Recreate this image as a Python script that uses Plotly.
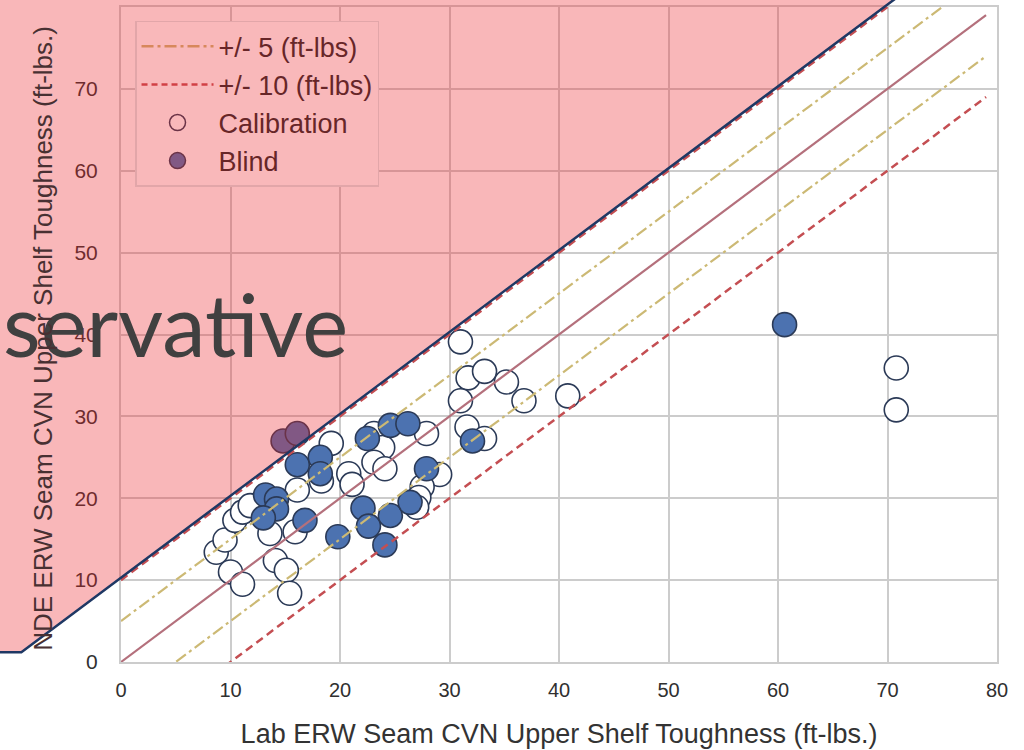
import plotly.graph_objects as go

# ---- data -----------------------------------------------------------------
cal_x = [8.7, 9.5, 10.0, 11.1, 10.4, 11.1, 11.8, 13.6, 14.1, 15.1, 15.4, 15.9,
         16.1, 18.3, 19.2, 20.8, 21.1, 23.1, 23.9, 23.1, 24.1, 27.9, 29.1, 27.5,
         27.2, 27.0, 31.0, 31.7, 33.2, 35.2, 36.8, 31.0, 40.8, 31.6, 33.2, 70.8,
         70.8]
cal_y = [13.4, 14.9, 11.0, 9.5, 17.3, 18.3, 19.1, 15.7, 12.4, 11.2, 8.4, 15.9,
         21.0, 22.1, 26.7, 23.0, 21.7, 27.9, 26.2, 24.4, 23.6, 27.9, 22.9, 21.4,
         20.1, 18.9, 39.1, 34.7, 35.5, 34.2, 31.9, 31.9, 32.5, 28.7, 27.3, 35.9,
         30.8]

blind_x = [14.8, 16.1, 16.1, 18.2, 18.2, 13.2, 14.2, 14.2, 13.0, 16.8, 19.8,
           22.5, 24.6, 26.2, 32.1, 27.9, 22.1, 22.6, 24.6, 26.4, 24.1, 60.6]
blind_y = [27.0, 27.9, 24.1, 25.0, 23.0, 20.4, 19.9, 18.7, 17.6, 17.3, 15.3,
           27.3, 28.9, 29.1, 27.0, 23.6, 18.8, 16.6, 17.9, 19.5, 14.3, 41.2]

line_x = [0, 79]
band5 = [-5, 5]
band10 = [-10, 10]

x_ticks = [0, 10, 20, 30, 40, 50, 60, 70, 80]
y_ticks = [0, 10, 20, 30, 40, 50, 60, 70, 80]
X_RANGE = (0, 80)
Y_RANGE = (0, 80)

# non-conservative zone: above the +10 band
zone_offset = 10.3
zone_corner_y = 1.2
zone_left_x = -12

# ---- styling --------------------------------------------------------------
BLUE = "#4C72B0"
EDGE = "#2B3A57"
YEL = "#CCB974"
RED = "#C44E52"
DIAG = "#B4707C"
OVERLAY = "rgba(236,37,43,0.33)"

fig = go.Figure()

fig.add_trace(go.Scatter(
    x=cal_x, y=cal_y, mode="markers", showlegend=False,
    marker=dict(size=24, color="white", line=dict(color=EDGE, width=1.6)),
))
fig.add_trace(go.Scatter(
    x=blind_x, y=blind_y, mode="markers", showlegend=False,
    marker=dict(size=24, color=BLUE, line=dict(color=EDGE, width=1.6)),
))

for off in band10:
    fig.add_trace(go.Scatter(
        x=line_x, y=[v + off for v in line_x], mode="lines", showlegend=False,
        line=dict(color=RED, width=2.5, dash="8px,5px"),
    ))
for off in band5:
    fig.add_trace(go.Scatter(
        x=line_x, y=[v + off for v in line_x], mode="lines", showlegend=False,
        line=dict(color=YEL, width=2.2, dash="12px,4px,3px,4px"),
    ))
fig.add_trace(go.Scatter(
    x=line_x, y=line_x, mode="lines", showlegend=False,
    line=dict(color=DIAG, width=2.2),
))

# legend entries, tinted the way they sit under the red zone
fig.add_trace(go.Scatter(x=[None], y=[None], mode="lines", name="+/- 5 (ft-lbs)",
                         line=dict(color="rgb(215,136,92)", width=2.5,
                                   dash="12px,4px,3px,4px")))
fig.add_trace(go.Scatter(x=[None], y=[None], mode="lines", name="+/- 10 (ft-lbs)",
                         line=dict(color="rgb(209,64,69)", width=2.5, dash="6px,4px")))
fig.add_trace(go.Scatter(x=[None], y=[None], mode="markers", name="Calibration",
                         marker=dict(size=16, color="rgb(249,184,186)",
                                     line=dict(color="rgb(107,51,71)", width=1.5))))
fig.add_trace(go.Scatter(x=[None], y=[None], mode="markers", name="Blind",
                         marker=dict(size=16, color="rgb(129,89,132)",
                                     line=dict(color="rgb(107,51,71)", width=1.5))))


def px(x):
    return (x - X_RANGE[0]) / (X_RANGE[1] - X_RANGE[0])


def py(y):
    return (y - Y_RANGE[0]) / (Y_RANGE[1] - Y_RANGE[0])


corner_x = zone_corner_y - zone_offset
top_y = 86
top_x = top_y - zone_offset
zone_pts = [(zone_left_x, zone_corner_y), (corner_x, zone_corner_y), (top_x, top_y),
            (zone_left_x, top_y)]
fill_path = "M " + " L ".join(f"{px(a):.5f},{py(b):.5f}" for a, b in zone_pts) + " Z"
edge_path = "M " + " L ".join(f"{px(a):.5f},{py(b):.5f}" for a, b in zone_pts[:3])

fig.add_shape(type="path", path=fill_path, xref="paper", yref="paper",
              fillcolor=OVERLAY, line=dict(width=0), layer="above")
fig.add_shape(type="path", path=edge_path, xref="paper", yref="paper",
              line=dict(color="#1F3864", width=2.5), layer="above")

fig.add_annotation(text="servative", xref="paper", yref="paper",
                   x=px(-11.0), y=py(41.3), xanchor="left", yanchor="middle",
                   showarrow=False,
                   font=dict(family="Lato", size=87, color="#404040"))

# y-axis title placed as rotated text beside the tick labels
fig.add_annotation(text="NDE ERW Seam CVN Upper Shelf Toughness (ft-lbs.)",
                   xref="paper", yref="paper", x=px(-7.2), y=py(39.5),
                   xanchor="center", yanchor="middle", textangle=-90,
                   showarrow=False,
                   font=dict(family="Liberation Sans, Arial", size=26,
                             color="rgb(72,48,50)"))

fig.update_layout(
    width=1024, height=750,
    margin=dict(l=121, r=27, t=5, b=88),
    paper_bgcolor="white", plot_bgcolor="white",
    showlegend=True,
    legend=dict(x=0.016, y=0.979, xanchor="left", yanchor="top",
                bgcolor="rgb(249,184,186)", bordercolor="rgb(226,166,169)",
                borderwidth=1.5, itemwidth=72, tracegroupgap=0,
                font=dict(family="Liberation Sans, Arial", size=27,
                          color="rgb(103,38,40)")),
)
fig.update_xaxes(
    range=list(X_RANGE), tickvals=x_ticks, showgrid=True, gridcolor="#CCCCCC",
    gridwidth=1.5, zeroline=False, showline=True, linecolor="#CCCCCC",
    linewidth=2, mirror=True, ticks="", ticklabelstandoff=9,
    tickfont=dict(family="Liberation Sans, Arial", size=20, color="#303030"),
    title=dict(text="Lab ERW Seam CVN Upper Shelf Toughness (ft-lbs.)", standoff=24,
               font=dict(family="Liberation Sans, Arial", size=27, color="#333333")),
)
fig.update_yaxes(
    range=list(Y_RANGE), tickvals=y_ticks, showgrid=True, gridcolor="#CCCCCC",
    gridwidth=1.5, zeroline=False, showline=True, linecolor="#CCCCCC",
    linewidth=2, mirror=True, ticks="", ticklabelstandoff=17,
    tickfont=dict(family="Liberation Sans, Arial", size=21, color="#303030"),
)

fig.write_html("out.html")
